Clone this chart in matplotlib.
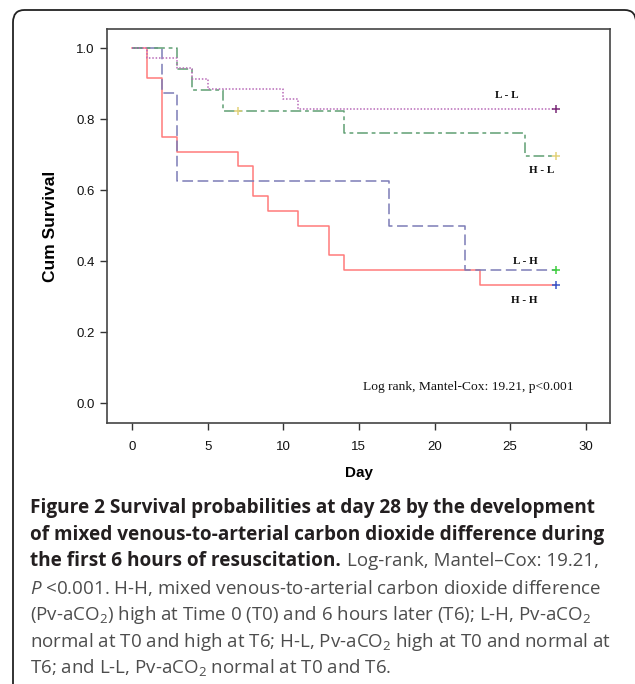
import matplotlib
matplotlib.use("Agg")
import matplotlib.pyplot as plt
from matplotlib.patches import FancyBboxPatch

# Kaplan-Meier steps
hh_days = [0, 1, 2, 3, 7, 8, 9, 11, 13, 14, 23, 28]
hh_surv = [1.0, 0.917, 0.75, 0.708, 0.667, 0.583, 0.542, 0.5, 0.417, 0.375, 0.333, 0.333]

lh_days = [0, 2, 3, 17, 22, 28]
lh_surv = [1.0, 0.875, 0.625, 0.5, 0.375, 0.375]

hl_days = [0, 3, 4, 6, 14, 26, 28]
hl_surv = [1.0, 0.941, 0.882, 0.824, 0.760, 0.696, 0.696]

ll_days = [0, 1, 3, 4, 5, 10, 11, 28]
ll_surv = [1.0, 0.971, 0.943, 0.914, 0.886, 0.857, 0.829, 0.829]

# censored points
cens_ll = ([28], [0.829])
cens_hl = ([7, 28], [0.824, 0.696])
cens_lh = ([28], [0.375])
cens_hh = ([28], [0.333])

x_ticks = [0, 5, 10, 15, 20, 25, 30]
y_ticks = [0.0, 0.2, 0.4, 0.6, 0.8, 1.0]

plt.rcParams['mathtext.fontset'] = 'custom'
plt.rcParams['mathtext.rm'] = 'Open Sans'
plt.rcParams['mathtext.it'] = 'Open Sans:italic'

W, H = 635, 684
fig = plt.figure(figsize=(W / 100, H / 100), dpi=100)
fig.patch.set_facecolor('white')

# outer rounded frame (open at bottom)
frame = FancyBboxPatch((13 / W, -0.05), (636 - 13) / W, (H - 10) / H + 0.05,
                       boxstyle="round,pad=0,rounding_size=0.018",
                       transform=fig.transFigure, fill=False,
                       edgecolor='#222222', linewidth=1.3)
fig.patches.append(frame)

ax = fig.add_axes([107 / W, 1 - 423 / H, (610 - 107) / W, (423 - 29) / H])

ax.step(hh_days, hh_surv, where='post', color='#ff7b7b', lw=1.1, ls='-')
ax.step(lh_days, lh_surv, where='post', color='#7c7cb6', lw=1.1, dashes=(7, 3))
ax.step(hl_days, hl_surv, where='post', color='#5f9f73', lw=1.1, dashes=(7, 2.5, 2.5, 2.5))
ax.step(ll_days, ll_surv, where='post', color='#b86ab8', lw=1.1, dashes=(1, 1.2))

mk = dict(marker='+', ls='none', ms=6, mew=1.1)
ax.plot(*cens_ll, color='#7a2a78', **mk)
ax.plot(*cens_hl, color='#e3d27a', **mk)
ax.plot(*cens_lh, color='#3fcf3f', **mk)
ax.plot(*cens_hh, color='#3a55c8', **mk)

lab = dict(family='Liberation Serif', fontweight='bold', fontsize=8,
           ha='center', va='center', color='#111111')
ax.text(24.8, 0.868, 'L - L', **lab)
ax.text(27.1, 0.656, 'H - L', **lab)
ax.text(26.0, 0.400, 'L - H', **lab)
ax.text(25.9, 0.288, 'H - H', **lab)
ax.text(15.27, 0.046, 'Log rank, Mantel-Cox: 19.21, p<0.001',
        family='Liberation Serif', fontsize=9.7, ha='left', va='center',
        color='#111111')

ax.set_xlim(-1.65, 31.6)
ax.set_ylim(-0.056, 1.054)
ax.set_xticks(x_ticks)
ax.set_yticks(y_ticks)
ax.set_yticklabels([f'{v:.1f}' for v in y_ticks])
ax.tick_params(direction='out', length=5, width=1, color='#333333',
               labelsize=9.5, labelcolor='#111111')
ax.tick_params(axis='x', pad=8)
ax.tick_params(axis='y', pad=4)
for t in ax.get_xticklabels() + ax.get_yticklabels():
    t.set_family('Liberation Sans')
for s in ax.spines.values():
    s.set_color('#444444')
    s.set_linewidth(1.2)
ax.set_xlabel('Day', family='Liberation Sans', fontweight='bold', fontsize=11,
              labelpad=9)
ax.set_ylabel('Cum Survival', family='Liberation Sans', fontweight='bold',
              fontsize=12.5, labelpad=13)

# caption
cap_x = 30 / W
line_y = [508, 535, 561, 588, 615, 642, 668]
bold = dict(family='Open Sans', fontweight='bold', fontsize=13.3, color='#231f20',
            va='center', ha='left')
reg = dict(family='Open Sans', fontsize=12.8, color='#4d4d4d', va='center', ha='left')

renderer = fig.canvas.get_renderer()


def fit(t, target_px):
    # shrink/grow the font so the line spans the same width as in the figure
    w = t.get_window_extent(renderer).width
    t.set_fontsize(t.get_fontsize() * target_px / w)
    return t.get_fontsize()


t1 = fig.text(cap_x, 1 - line_y[0] / H,
              'Figure 2 Survival probabilities at day 28 by the development', **bold)
bsize = fit(t1, 568)
bold['fontsize'] = bsize
fig.text(cap_x, 1 - line_y[1] / H,
         'of mixed venous-to-arterial carbon dioxide difference during', **bold)
tb = fig.text(cap_x, 1 - line_y[2] / H, 'the first 6 hours of resuscitation.', **bold)

t6 = fig.text(cap_x, 1 - line_y[5] / H,
              r'normal at T0 and high at T6; H-L, Pv-aCO$_2$ high at T0 and normal at', **reg)
rsize = fit(t6, 580)
reg['fontsize'] = rsize

ext = tb.get_window_extent(renderer)
fig.text(ext.x1 / W + 6 / W, 1 - line_y[2] / H, 'Log-rank, Mantel\u2013Cox: 19.21,', **reg)
fig.text(cap_x, 1 - line_y[3] / H,
         r'$\mathit{P}$ <0.001. H-H, mixed venous-to-arterial carbon dioxide difference', **reg)
fig.text(cap_x, 1 - line_y[4] / H,
         r'(Pv-aCO$_2$) high at Time 0 (T0) and 6 hours later (T6); L-H, Pv-aCO$_2$', **reg)
fig.text(cap_x, 1 - line_y[6] / H,
         r'T6; and L-L, Pv-aCO$_2$ normal at T0 and T6.', **reg)

fig.savefig('out.png', dpi=100)
